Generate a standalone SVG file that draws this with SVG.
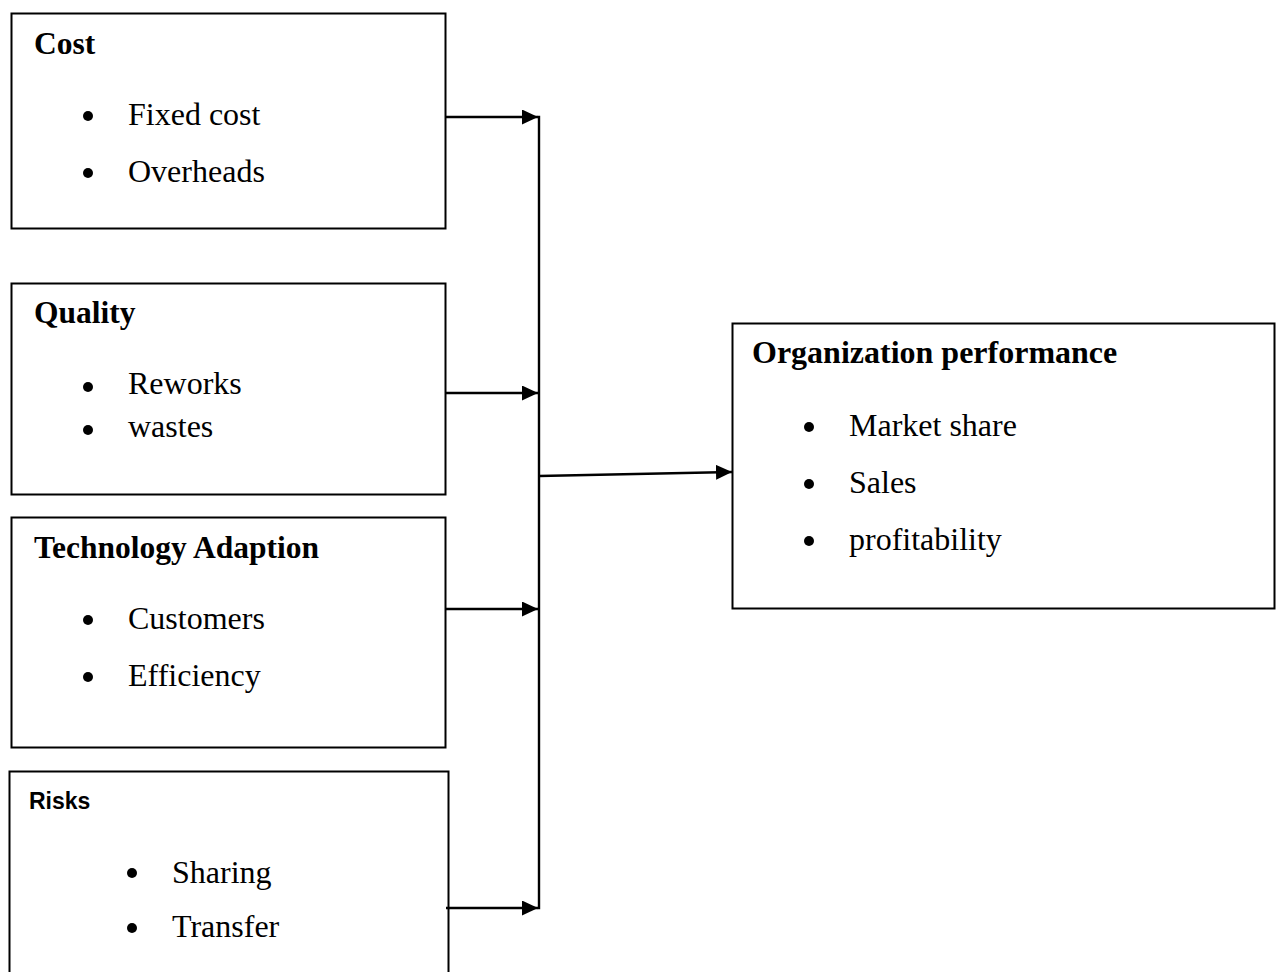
<svg xmlns="http://www.w3.org/2000/svg" width="1281" height="972" viewBox="0 0 1281 972">
<style>
.box{fill:#fff;stroke:#000;stroke-width:2}
.h{font-family:"Liberation Serif","Times New Roman",serif;font-weight:bold;font-size:31.5px;fill:#000}
.b{font-family:"Liberation Serif","Times New Roman",serif;font-size:32px;fill:#000}
.hs{font-family:"Liberation Sans",Arial,sans-serif;font-weight:bold;font-size:23px;fill:#000}
.dot{fill:#000}
.ln{stroke:#000;stroke-width:2.4;fill:none}
</style>
<defs>
<marker id="ah" markerWidth="16" markerHeight="15" refX="16" refY="7.5" orient="auto" markerUnits="userSpaceOnUse">
<path d="M0,0 L16,7.5 L0,15 Z" fill="#000"/>
</marker>
</defs>
<rect width="1281" height="972" fill="#fff"/>
<g id="cost">
<rect class="box" x="11.5" y="13.5" width="434" height="215"/>
<text class="h" x="34" y="54">Cost</text>
<circle class="dot" cx="88" cy="116" r="5"/>
<text class="b" x="128" y="125">Fixed cost</text>
<circle class="dot" cx="88" cy="173" r="5"/>
<text class="b" x="128" y="182">Overheads</text>
</g>
<g id="quality">
<rect class="box" x="11.5" y="283.5" width="434" height="211"/>
<text class="h" x="34" y="323">Quality</text>
<circle class="dot" cx="88" cy="387" r="5"/>
<text class="b" x="128" y="394">Reworks</text>
<circle class="dot" cx="88" cy="430" r="5"/>
<text class="b" x="128" y="437">wastes</text>
</g>
<g id="technology">
<rect class="box" x="11.5" y="517.5" width="434" height="230"/>
<text class="h" x="34" y="558">Technology Adaption</text>
<circle class="dot" cx="88" cy="620" r="5"/>
<text class="b" x="128" y="629">Customers</text>
<circle class="dot" cx="88" cy="677" r="5"/>
<text class="b" x="128" y="686">Efficiency</text>
</g>
<g id="risks">
<rect class="box" x="9.5" y="771.5" width="439" height="215"/>
<text class="hs" x="29" y="809">Risks</text>
<circle class="dot" cx="132" cy="873" r="5"/>
<text class="b" x="172" y="883">Sharing</text>
<circle class="dot" cx="132" cy="928" r="5"/>
<text class="b" x="172" y="937">Transfer</text>
</g>
<g id="performance">
<rect class="box" x="732.5" y="323.5" width="542" height="285"/>
<text class="h" x="752" y="363" style="font-size:32px">Organization performance</text>
<circle class="dot" cx="809" cy="427" r="5"/>
<text class="b" x="849" y="436">Market share</text>
<circle class="dot" cx="809" cy="484" r="5"/>
<text class="b" x="849" y="493">Sales</text>
<circle class="dot" cx="809" cy="541" r="5"/>
<text class="b" x="849" y="550">profitability</text>
</g>
<g id="connectors">
<line class="ln" x1="446" y1="117" x2="538" y2="117" marker-end="url(#ah)"/>
<line class="ln" x1="446" y1="393" x2="538" y2="393" marker-end="url(#ah)"/>
<line class="ln" x1="446" y1="609" x2="538" y2="609" marker-end="url(#ah)"/>
<line class="ln" x1="446" y1="908" x2="538" y2="908" marker-end="url(#ah)"/>
<line class="ln" x1="539" y1="115.8" x2="539" y2="909.2"/>
<line class="ln" x1="539" y1="476" x2="732" y2="472" marker-end="url(#ah)"/>
</g>
</svg>
